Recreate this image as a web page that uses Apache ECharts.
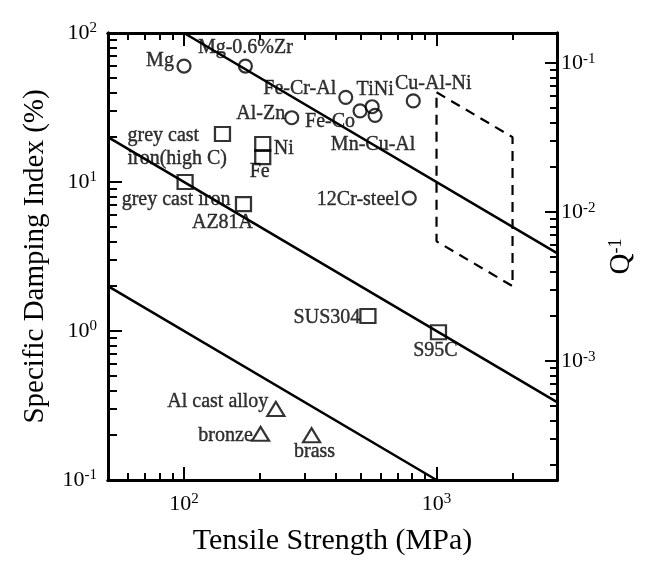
<!DOCTYPE html>
<html lang="en">
  <head>
    <meta charset="UTF-8" />
    <title>Damping vs tensile strength</title>
    <script src="https://cdn.jsdelivr.net/npm/echarts@6/dist/echarts.min.js"></script>
    <style>
      body { margin: 0; background: #fff; }
      #main { width: 653px; height: 563px; }
    </style>
  </head>
  <body>
    <div id="main"></div>
    <script>
      // materials, [tensile strength MPa, specific damping index %]
      var circleNames = ["Mg", "Mg-0.6%Zr", "Al-Zn", "Fe-Cr-Al", "Fe-Co", "TiNi", "Mn-Cu-Al", "Cu-Al-Ni", "12Cr-steel"];
      var circleData = [[100, 60], [175, 60], [267, 27], [437, 37], [498, 30], [556, 32], [571, 28], [809, 35], [780, 7.8]];
      var squareNames = ["grey cast\niron(high C)", "Ni", "Fe", "grey cast iron", "AZ81A", "SUS304", "S95C"];
      var squareData = [[142, 21], [205, 18], [205, 14.7], [101, 10], [172, 7.1], [535, 1.26], [1018, 0.98]];
      var triangleNames = ["Al cast alloy", "bronze", "brass"];
      var triangleData = [[231, 0.3], [201, 0.204], [320, 0.2]];

      // iso-lines SDI * sigma = const
      var line1 = [[100, 100], [3000, 3.33]];
      var line2 = [[50, 20], [3000, 0.333]];
      var line3 = [[50, 2], [1000, 0.1]];
      var targetBox = [[1000, 40], [2000, 20], [2000, 2], [1000, 4], [1000, 40]];

      var xMajor = [100, 1000];
      var xMinor = [60, 70, 80, 90, 200, 300, 400, 500, 600, 700, 800, 900, 2000];
      var yMajor = [0.1, 1, 10, 100];
      var yMinor = [0.2, 0.3, 0.4, 0.5, 0.6, 0.7, 0.8, 0.9, 2, 3, 4, 5, 6, 7, 8, 9, 20, 30, 40, 50, 60, 70, 80, 90];
      var qMajor = [0.001, 0.01, 0.1];
      var qMinor = [0.0002, 0.0003, 0.0004, 0.0005, 0.0006, 0.0007, 0.0008, 0.0009,
        0.002, 0.003, 0.004, 0.005, 0.006, 0.007, 0.008, 0.009,
        0.02, 0.03, 0.04, 0.05, 0.06, 0.07, 0.08, 0.09];
      var sdiToQ = 1 / (200 * Math.PI);

      // label offsets from marker centre (px)
      var labelOffsets = {
        "Mg": [-24, -5],
        "Mg-0.6%Zr": [0, -18],
        "Al-Zn": [-31, -4],
        "Fe-Cr-Al": [-46, -9],
        "Fe-Co": [-30, 11],
        "TiNi": [3, -17],
        "Mn-Cu-Al": [-2, 29],
        "Cu-Al-Ni": [20, -17],
        "12Cr-steel": [-51, 2],
        "grey cast\niron(high C)": [-95, 13, "left"],
        "Ni": [21, 5],
        "Fe": [-3, 15],
        "grey cast iron": [-9, 18],
        "AZ81A": [-21, 19],
        "SUS304": [-41, 2],
        "S95C": [-3, 18],
        "Al cast alloy": [-58, -7],
        "bronze": [-35, 2],
        "brass": [3, 17]
      };

      var FONT = "Liberation Serif";
      var supRich = {
        b: { fontSize: 22, fontFamily: FONT, color: "#000", lineHeight: 24 },
        s: { fontSize: 15, fontFamily: FONT, color: "#000", verticalAlign: "top", lineHeight: 15 }
      };
      function powLabel(v) {
        var e = Math.round(Math.log10(v));
        return "{b|10}{s|" + e + "}";
      }

      function items(names, data) {
        return data.map(function (d, i) {
          var o = labelOffsets[names[i]];
          return {
            name: names[i],
            value: d,
            label: { offset: [o[0], o[1]], align: o[2] || "center" }
          };
        });
      }

      function tickAxis(kind, pos, values, len, extra) {
        var ax = {
          type: "log",
          logBase: 10,
          position: pos,
          axisLine: { show: true, onZero: false, lineStyle: { color: "#000", width: 3 } },
          axisTick: { show: true, inside: true, length: len, customValues: values, lineStyle: { color: "#000", width: 2 } },
          axisLabel: { show: false },
          splitLine: { show: false },
          minorTick: { show: false }
        };
        if (kind === "x") { ax.min = 50; ax.max = 3000; }
        else if (kind === "q") { ax.min = 0.1 * sdiToQ; ax.max = 100 * sdiToQ; }
        else { ax.min = 0.1; ax.max = 100; }
        return Object.assign(ax, extra || {});
      }

      var markerStyle = { color: "rgba(0,0,0,0)", borderColor: "#000", borderWidth: 2.2 };
      var labelStyle = {
        show: true,
        position: "inside",
        formatter: "{b}",
        fontFamily: FONT,
        fontSize: 20,
        lineHeight: 23,
        color: "#000",
        textBorderColor: "#000",
        textBorderWidth: 0.4,
        verticalAlign: "middle"
      };
      function lineSeries(data, dashed) {
        return {
          type: "line",
          data: data,
          showSymbol: false,
          symbol: "none",
          silent: true,
          z: 1,
          lineStyle: { color: "#000", width: dashed ? 2.2 : 2.5, type: dashed ? [10, 7] : "solid" }
        };
      }
      function scatter(symbol, size, names, data) {
        return {
          type: "scatter",
          symbol: symbol,
          symbolSize: size,
          data: items(names, data),
          itemStyle: markerStyle,
          label: labelStyle,
          silent: true,
          z: 3
        };
      }

      var myChart = echarts.init(document.getElementById("main"));
      var option = {
        backgroundColor: "#fff",
        animation: false,
        grid: { left: 108, top: 33, width: 449, height: 447, outerBoundsMode: "none" },
        xAxis: [
          tickAxis("x", "bottom", xMajor, 13, {
            name: "Tensile Strength (MPa)",
            nameLocation: "middle",
            nameGap: 46,
            nameTextStyle: { fontFamily: FONT, fontSize: 30, color: "#000" },
            axisLabel: { show: true, customValues: xMajor, margin: 12, formatter: powLabel, rich: supRich }
          }),
          tickAxis("x", "bottom", xMinor, 7),
          tickAxis("x", "top", xMajor, 13),
          tickAxis("x", "top", xMinor, 7)
        ],
        yAxis: [
          tickAxis("y", "left", yMajor, 14, {
            name: "Specific Damping Index (%)",
            nameLocation: "middle",
            nameGap: 58,
            nameRotate: 90,
            nameTextStyle: { fontFamily: FONT, fontSize: 29, color: "#000" },
            axisLabel: { show: true, customValues: yMajor, margin: 11, formatter: powLabel, rich: supRich }
          }),
          tickAxis("y", "left", yMinor, 9),
          tickAxis("q", "right", qMajor, 12, {
            name: "Q{s|-1}",
            nameLocation: "middle",
            nameGap: 50,
            nameRotate: 90,
            nameTextStyle: {
              fontFamily: FONT, fontSize: 29, color: "#000",
              rich: { s: { fontFamily: FONT, fontSize: 18, color: "#000", verticalAlign: "top" } }
            },
            axisLabel: { show: true, customValues: qMajor, margin: 4, formatter: powLabel, rich: supRich }
          }),
          tickAxis("q", "right", qMinor, 7)
        ],
        series: [
          lineSeries(line1),
          lineSeries(line2),
          lineSeries(line3),
          lineSeries(targetBox, true),
          scatter("circle", 13, circleNames, circleData),
          scatter("rect", [15, 14], squareNames, squareData),
          scatter("triangle", [17, 14], triangleNames, triangleData)
        ]
      };
      option && myChart.setOption(option);
    </script>
  </body>
</html>
